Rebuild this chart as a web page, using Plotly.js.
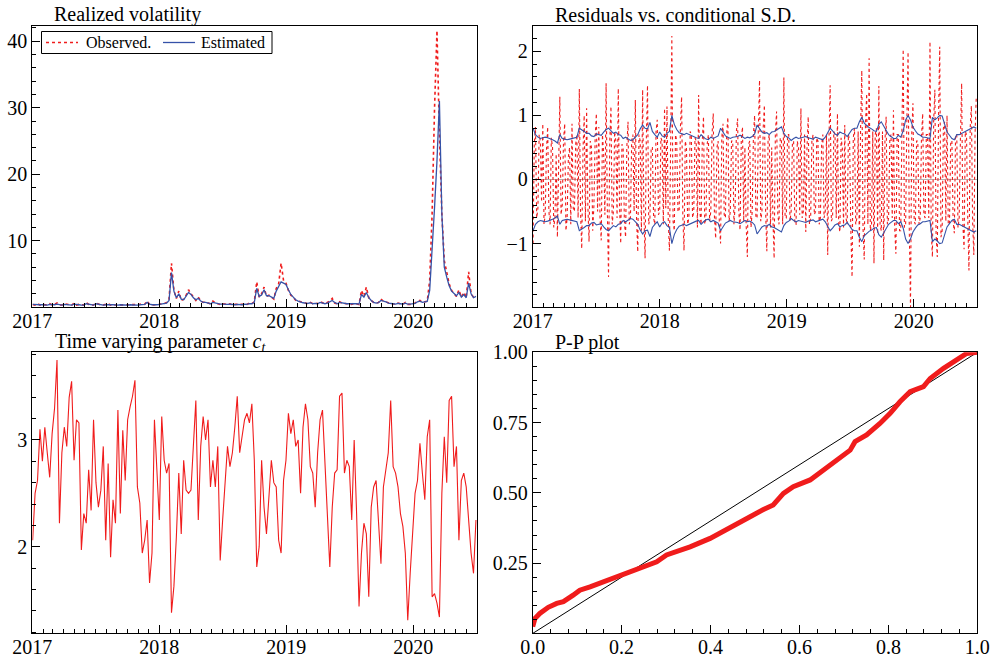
<!DOCTYPE html>
<html><head><meta charset="utf-8">
<script src="https://cdn.plot.ly/plotly-3.0.1.min.js"></script>
<style>html,body{margin:0;padding:0;background:#fff}#chart{width:992px;height:660px}</style>
</head><body><div id="chart"></div>
<script>
// ---- data ----
const startDate = '2017-01-02';
const stepDays = 7;        // weekly series
const resStepDays = 3.5;   // residuals, twice a week

const rvObserved = [
0.4,0.3,0.5,0.3,0.4,0.3,0.3,0.5,0.3,0.4,0.6,0.3,0.3,
0.5,0.4,0.3,0.3,0.6,0.3,0.4,0.3,0.3,0.7,0.4,0.3,0.3,
0.6,0.4,0.3,0.3,0.4,0.5,0.3,0.4,0.3,0.3,0.4,0.3,0.3,
0.3,0.4,0.3,0.3,0.3,0.4,0.5,0.4,0.9,0.4,0.3,0.3,0.4,
0.4,0.5,0.5,0.7,1.2,6.6,2.5,1.3,2.4,1.0,1.2,1.8,2.6,
2.0,1.4,1.0,1.5,0.9,0.7,0.8,0.6,0.5,0.9,0.6,0.5,0.4,
0.5,0.4,0.4,0.5,0.3,0.4,0.4,0.3,0.4,0.5,0.4,0.6,0.5,
0.8,3.8,1.5,2.0,3.0,1.6,1.8,1.5,1.2,2.8,3.5,6.6,4.0,
3.6,2.5,1.8,1.5,1.0,0.9,0.7,0.6,0.6,0.5,0.7,0.5,0.6,
0.5,0.8,0.6,0.5,0.7,0.9,1.3,0.6,0.5,0.8,0.6,0.5,0.5,
0.5,0.4,0.6,0.5,0.4,2.5,1.6,3.0,1.4,1.0,0.7,0.6,0.7,
1.2,0.9,0.8,0.6,0.5,0.5,0.4,0.6,0.5,0.4,0.7,0.4,0.4,
0.5,0.6,0.9,1.0,0.7,0.8,0.9,4.0,14,30,41.6,26,14,
7,5,3.5,2.5,2.0,1.6,2.6,1.5,2.2,1.4,5.3,2.0,1.5,1.8];

const rvEstimated = [
0.4,0.35,0.4,0.35,0.35,0.3,0.3,0.4,0.35,0.35,0.45,0.35,0.3,
0.4,0.4,0.35,0.3,0.45,0.35,0.35,0.3,0.3,0.5,0.4,0.35,0.3,
0.5,0.4,0.35,0.3,0.35,0.4,0.35,0.35,0.3,0.3,0.35,0.3,0.3,
0.3,0.35,0.3,0.3,0.3,0.35,0.4,0.4,0.7,0.45,0.35,0.3,0.35,
0.4,0.45,0.5,0.6,1.0,5.2,2.4,1.4,2.0,1.2,1.1,1.6,2.2,
1.9,1.4,1.1,1.3,0.9,0.7,0.7,0.6,0.5,0.7,0.6,0.5,0.45,
0.45,0.4,0.4,0.45,0.35,0.35,0.4,0.35,0.35,0.45,0.4,0.5,0.5,
0.7,2.8,1.6,1.8,2.6,1.7,1.7,1.5,1.3,2.4,3.0,3.8,3.6,
3.4,2.6,1.9,1.5,1.1,0.9,0.75,0.65,0.6,0.55,0.65,0.5,0.55,
0.5,0.7,0.6,0.5,0.6,0.8,1.0,0.7,0.5,0.7,0.6,0.5,0.5,
0.5,0.45,0.5,0.5,0.45,1.9,1.5,2.2,1.4,1.0,0.7,0.6,0.65,
1.0,0.95,0.8,0.6,0.5,0.5,0.45,0.55,0.5,0.45,0.6,0.45,0.45,
0.5,0.55,0.8,0.9,0.7,0.75,0.85,2.5,8,15,22,31,14,
6,4.5,3.2,2.4,2.0,1.7,2.2,1.5,1.9,1.4,3.6,2.0,1.4,1.6];

const residuals = [
-1.0,0.55,0.82,-0.6,-0.45,0.7,0.6,-0.35,0.87,-0.7,-0.55,0.45,0.82,-0.5,-0.7,0.65,0.5,-0.75,-0.6,0.4,-0.9,0.6,1.29,-0.55,-0.4,0.6,
0.87,-0.8,-0.6,0.35,0.5,-0.7,0.87,-0.45,-0.5,0.55,0.7,-0.6,1.41,-0.5,-1.08,0.45,1.0,-0.65,1.11,-0.4,-0.97,0.6,0.5,-0.8,-0.4,0.65,
1.03,-0.5,0.82,-0.6,-0.95,0.7,0.4,-0.55,1.5,-0.45,-1.52,0.6,1.14,-0.7,-0.5,0.75,0.6,-0.6,1.42,-0.4,-1.0,0.55,0.5,-0.65,-0.9,0.5,
0.9,-0.7,-0.6,0.6,0.7,-0.5,1.24,-0.6,-1.13,0.7,0.6,-0.8,1.4,-0.5,-1.23,0.6,1.47,-0.7,-0.6,0.5,0.5,-0.6,-0.7,0.75,0.93,-0.55,
-0.5,0.65,0.6,-0.7,1.11,-0.45,1.14,-0.6,-1.11,0.5,2.24,-0.65,-0.8,0.7,0.6,-0.5,-0.5,0.8,1.29,-0.55,-1.11,0.6,0.5,-0.7,-0.6,0.75,
0.7,-0.6,-0.5,0.65,0.6,-0.75,1.32,-0.5,-0.7,0.6,0.98,-0.7,-0.6,0.55,0.7,-0.65,-0.5,0.7,1.03,-0.6,-0.92,0.5,0.6,-0.7,-1.0,0.65,
0.87,-0.55,-0.6,0.7,0.97,-0.65,-0.5,0.6,0.6,-0.7,-0.4,0.75,0.95,-0.5,-0.79,0.6,0.82,-0.65,0.5,-0.7,-1.21,0.55,0.6,-0.75,-0.5,0.7,
1.0,-0.6,-0.6,0.75,1.55,-0.65,-0.5,0.8,1.16,-0.5,-1.12,0.6,0.7,-0.75,0.5,-0.6,-1.23,0.7,1.06,-0.55,-0.7,0.65,0.6,-0.7,1.59,-0.6,
-0.6,0.7,0.7,-0.65,-0.5,0.55,0.6,-0.7,-0.7,0.6,0.5,-0.55,1.11,-0.6,-0.5,0.7,-0.82,0.5,0.98,-0.7,-0.6,0.6,0.7,-0.55,-0.5,0.65,
0.6,-0.7,-0.6,0.55,0.7,-0.6,-0.5,0.7,-1.18,0.6,1.47,-0.65,-0.6,0.75,0.7,-0.6,1.03,-0.7,-0.82,0.65,0.5,-0.75,0.85,-0.6,-0.7,0.7,
0.6,-0.8,-1.52,0.65,0.8,-0.7,-0.6,0.75,-1.05,0.8,1.7,-0.75,-1.25,0.85,1.34,-0.7,1.89,-0.8,-0.7,0.75,-1.31,0.7,0.8,-0.85,1.46,-0.7,
-0.8,0.75,-1.26,0.6,0.98,-0.7,-0.6,0.65,0.7,-0.6,1.08,-0.75,-1.16,0.7,0.7,-0.8,-0.8,0.85,2.03,-0.75,-0.7,0.9,1.99,-0.8,-1.99,0.7,
1.19,-0.65,-0.7,0.6,0.6,-0.7,-0.6,0.65,1.03,-0.55,-0.6,0.7,0.7,-0.6,2.15,-0.8,-1.21,0.9,1.4,-0.85,-1.21,0.95,2.07,-0.9,-0.8,0.8,
0.9,-0.65,1.0,-0.7,-0.7,0.6,0.6,-0.65,-0.84,0.7,0.7,-0.75,-0.6,0.65,1.5,-0.7,-1.09,0.75,0.7,-0.6,-1.42,0.8,1.15,-0.65,-1.18,0.7,1.29];

const condSD = [
0.80,0.70,0.66,0.64,0.65,0.66,0.65,0.64,0.62,0.60,0.57,0.70,0.64,
0.63,0.62,0.63,0.64,0.64,0.66,0.80,0.78,0.75,0.72,0.72,0.68,0.67,
0.71,0.70,0.69,0.74,0.78,0.80,0.76,0.72,0.74,0.70,0.69,0.64,0.66,
0.63,0.61,0.62,0.66,0.70,0.79,0.85,0.80,0.79,0.89,0.75,0.70,0.66,
0.74,0.68,0.66,0.72,0.75,1.00,0.86,0.78,0.73,0.71,0.70,0.72,0.70,
0.69,0.67,0.65,0.64,0.70,0.66,0.63,0.62,0.66,0.64,0.66,0.68,0.80,
0.74,0.68,0.66,0.64,0.66,0.66,0.67,0.69,0.66,0.64,0.66,0.65,0.67,
0.71,0.85,0.80,0.74,0.72,0.73,0.70,0.74,0.75,0.77,0.80,0.82,0.72,
0.67,0.65,0.61,0.64,0.66,0.64,0.65,0.66,0.67,0.65,0.64,0.63,0.66,
0.65,0.64,0.62,0.66,0.72,0.80,0.76,0.71,0.69,0.74,0.72,0.71,0.67,
0.72,0.78,0.80,0.80,0.90,0.97,0.88,0.84,0.81,0.79,0.76,0.75,0.86,
0.90,0.83,0.75,0.70,0.67,0.64,0.64,0.69,0.66,0.76,0.93,1.00,0.93,
0.82,0.76,0.71,0.69,0.66,0.66,0.65,0.64,0.97,0.93,0.96,1.00,0.99,
0.88,0.74,0.69,0.64,0.62,0.70,0.70,0.72,0.74,0.76,0.78,0.80,0.82,0.80];

const paramC = [
2.06,2.5,2.62,3.1,2.8,3.12,2.88,2.65,3.06,3.3,3.75,2.22,2.88,
3.12,2.94,3.4,3.55,2.81,3.19,3.16,1.97,2.31,2.22,2.72,2.34,3.19,
2.6,2.37,2.53,2.94,2.06,2.78,1.9,2.44,2.22,3.28,2.31,3.09,2.62,
3.19,3.31,3.41,3.56,2.56,2.41,1.94,2.06,2.25,1.66,1.94,3.19,2.72,
2.25,3.22,2.81,2.69,2.78,1.38,1.63,2.09,2.69,2.12,2.81,2.53,2.5,
2.53,3.0,3.37,2.25,2.94,3.22,3.0,3.19,2.56,2.81,2.56,2.94,1.87,
2.25,2.56,2.94,2.75,2.88,3.12,3.41,2.88,3.03,3.19,3.25,3.16,3.34,
2.81,1.81,2.0,2.81,2.37,2.12,2.44,2.81,2.6,2.56,2.06,1.94,2.62,
2.81,3.25,3.06,3.19,2.94,3.0,2.5,3.12,3.34,3.19,2.75,2.69,2.37,
2.88,3.19,3.28,2.81,2.25,1.81,2.37,2.69,2.72,3.41,3.44,2.69,2.81,
2.75,2.25,3.0,2.31,1.44,1.94,2.22,2.12,1.53,2.37,2.56,2.62,2.25,
1.84,2.56,2.72,2.88,3.37,2.75,2.69,2.56,2.31,2.19,1.94,1.31,1.75,
2.09,2.5,2.62,2.97,2.69,2.44,3.03,3.19,1.53,1.56,1.47,1.34,2.5,
3.03,2.6,3.37,3.41,2.75,2.94,2.06,2.62,2.69,2.56,2.25,1.94,1.75,2.25];

const ppTheoretical = [0,0.005,0.016,0.035,0.054,0.069,0.091,0.106,0.129,0.159,0.2,0.241,0.279,0.301,0.354,0.399,0.444,0.489,0.519,0.541,0.564,0.586,0.624,0.654,0.691,0.714,0.725,0.751,0.781,0.804,0.826,0.849,0.879,0.894,0.924,0.954,0.976,1.0];
const ppEmpirical = [0.024,0.053,0.071,0.093,0.107,0.113,0.136,0.154,0.166,0.184,0.204,0.231,0.255,0.279,0.308,0.338,0.374,0.415,0.441,0.457,0.498,0.522,0.546,0.581,0.623,0.652,0.682,0.706,0.747,0.783,0.824,0.86,0.878,0.907,0.943,0.973,0.996,1.0];
const diagonal = [0, 1];

const legendLabels = ['Observed.', 'Estimated'];

// ---- build ----
function datesFor(n, step){
  const t0 = Date.parse(startDate + 'T00:00:00Z');
  const out = [];
  for (let i = 0; i < n; i++) out.push(new Date(t0 + i*step*86400000).toISOString().replace('T',' ').slice(0,19));
  return out;
}
const dRV = datesFor(rvObserved.length, stepDays);
const dRes = datesFor(residuals.length, resStepDays);
const dSD = datesFor(condSD.length, stepDays);
const dC = datesFor(paramC.length, stepDays);

const W = 992, H = 660;
const fx = p => p / W;
const fy = p => 1 - p / H;
const serif = 'Liberation Serif, serif';
const RED = '#f01c1c', BLUE = '#3552a8';

const traces = [
  {x: dRV, y: rvObserved, xaxis:'x', yaxis:'y', type:'scatter', mode:'lines', name:legendLabels[0],
   line:{color:RED, width:1.6, dash:'dot'}},
  {x: dRV, y: rvEstimated, xaxis:'x', yaxis:'y', type:'scatter', mode:'lines', name:legendLabels[1],
   line:{color:BLUE, width:1.3}},
  {x: dRes, y: residuals, xaxis:'x2', yaxis:'y2', type:'scatter', mode:'lines',
   line:{color:RED, width:1.1, dash:'dot'}},
  {x: dSD, y: condSD, xaxis:'x2', yaxis:'y2', type:'scatter', mode:'lines',
   line:{color:BLUE, width:1.1}},
  {x: dSD, y: condSD.map(v => -v), xaxis:'x2', yaxis:'y2', type:'scatter', mode:'lines',
   line:{color:BLUE, width:1.1}},
  {x: dC, y: paramC, xaxis:'x3', yaxis:'y3', type:'scatter', mode:'lines',
   line:{color:RED, width:1.1}},
  {x: diagonal, y: diagonal, xaxis:'x4', yaxis:'y4', type:'scatter', mode:'lines',
   line:{color:'#000', width:1}},
  {x: ppTheoretical, y: ppEmpirical, xaxis:'x4', yaxis:'y4', type:'scatter', mode:'lines',
   line:{color:RED, width:5}}
];

const base = {showline:true, mirror:true, linecolor:'#000', linewidth:1,
  ticks:'inside', ticklen:8, tickwidth:1, tickcolor:'#000',
  showgrid:false, zeroline:false, fixedrange:true,
  tickfont:{family:serif, size:20, color:'#000'}};
const dateAxis = (dom, anchor) => Object.assign({}, base, {
  type:'date', domain:dom, anchor:anchor, range:['2017-01-01','2020-07-02'],
  tick0:'2017-01-01', dtick:'M12', tickformat:'%Y', ticklabelstandoff:-4,
  minor:{ticks:'inside', ticklen:4, tickcolor:'#000', dtick:'M1', tick0:'2017-01-01', showgrid:false}});
const numAxis = (dom, anchor, range, dtick, mdt, fmt) => Object.assign({}, base, {
  domain:dom, anchor:anchor, range:range, tick0:0, dtick:dtick, tickformat:fmt || '',
  minor:{ticks:'inside', ticklen:4, tickcolor:'#000', dtick:mdt, tick0:0, showgrid:false}});

const LX = [fx(32.3), fx(477)], RX = [fx(532.7), fx(977.3)];
const TY = [fy(307), fy(26)], BY = [fy(633.3), fy(352.3)];

const legY = 42.5;
const layout = {
  width: W, height: H, margin:{l:0, r:0, t:0, b:0},
  paper_bgcolor:'#fff', plot_bgcolor:'#fff',
  font:{family:serif, color:'#000'},
  showlegend:false,
  xaxis: dateAxis(LX, 'y'),
  yaxis: numAxis(TY, 'x', [0.01, 42.3], 10, 2),
  xaxis2: dateAxis(RX, 'y2'),
  yaxis2: Object.assign(numAxis(TY, 'x2', [-1.99, 2.395], 1, 0.2),
          {zeroline:true, zerolinecolor:'#b4b4b4', zerolinewidth:1}),
  xaxis3: dateAxis(LX, 'y3'),
  yaxis3: numAxis(BY, 'x3', [1.188, 3.822], 1, 0.2),
  xaxis4: Object.assign(numAxis(RX, 'y4', [0, 1], 0.2, 0.04, '.1f'), {ticklabelstandoff:-4}),
  yaxis4: numAxis(BY, 'x4', [0.0005, 1.0], 0.25, 0.05, '.2f'),
  shapes:[
    {type:'rect', xref:'paper', yref:'paper', x0:fx(41.5), x1:fx(272), y0:fy(53.5), y1:fy(31.5),
     line:{color:'#000', width:1}, fillcolor:'#fff', layer:'above'},
    {type:'line', xref:'paper', yref:'paper', x0:fx(46), x1:fx(78), y0:fy(legY), y1:fy(legY),
     line:{color:RED, width:1.6, dash:'dot'}, layer:'above'},
    {type:'line', xref:'paper', yref:'paper', x0:fx(163), x1:fx(195), y0:fy(legY), y1:fy(legY),
     line:{color:BLUE, width:1.3}, layer:'above'}
  ],
  annotations:[
    {text:'Realized volatility', x:fx(52), y:fy(15), size:20},
    {text:'Residuals vs. conditional S.D.', x:fx(553), y:fy(15), size:20},
    {text:'Time varying parameter <i>c</i><sub><i>t</i></sub>', x:fx(53), y:fy(342), size:20},
    {text:'P-P plot', x:fx(553), y:fy(342), size:20},
    {text:legendLabels[0], x:fx(84), y:fy(legY), size:16},
    {text:legendLabels[1], x:fx(199), y:fy(legY), size:16}
  ].map(a => ({xref:'paper', yref:'paper', xanchor:'left', yanchor:'middle',
    showarrow:false, text:a.text, x:a.x, y:a.y, font:{family:serif, size:a.size, color:'#000'}}))
};

Plotly.newPlot('chart', traces, layout, {staticPlot:true, displayModeBar:false});
</script>
</body></html>
